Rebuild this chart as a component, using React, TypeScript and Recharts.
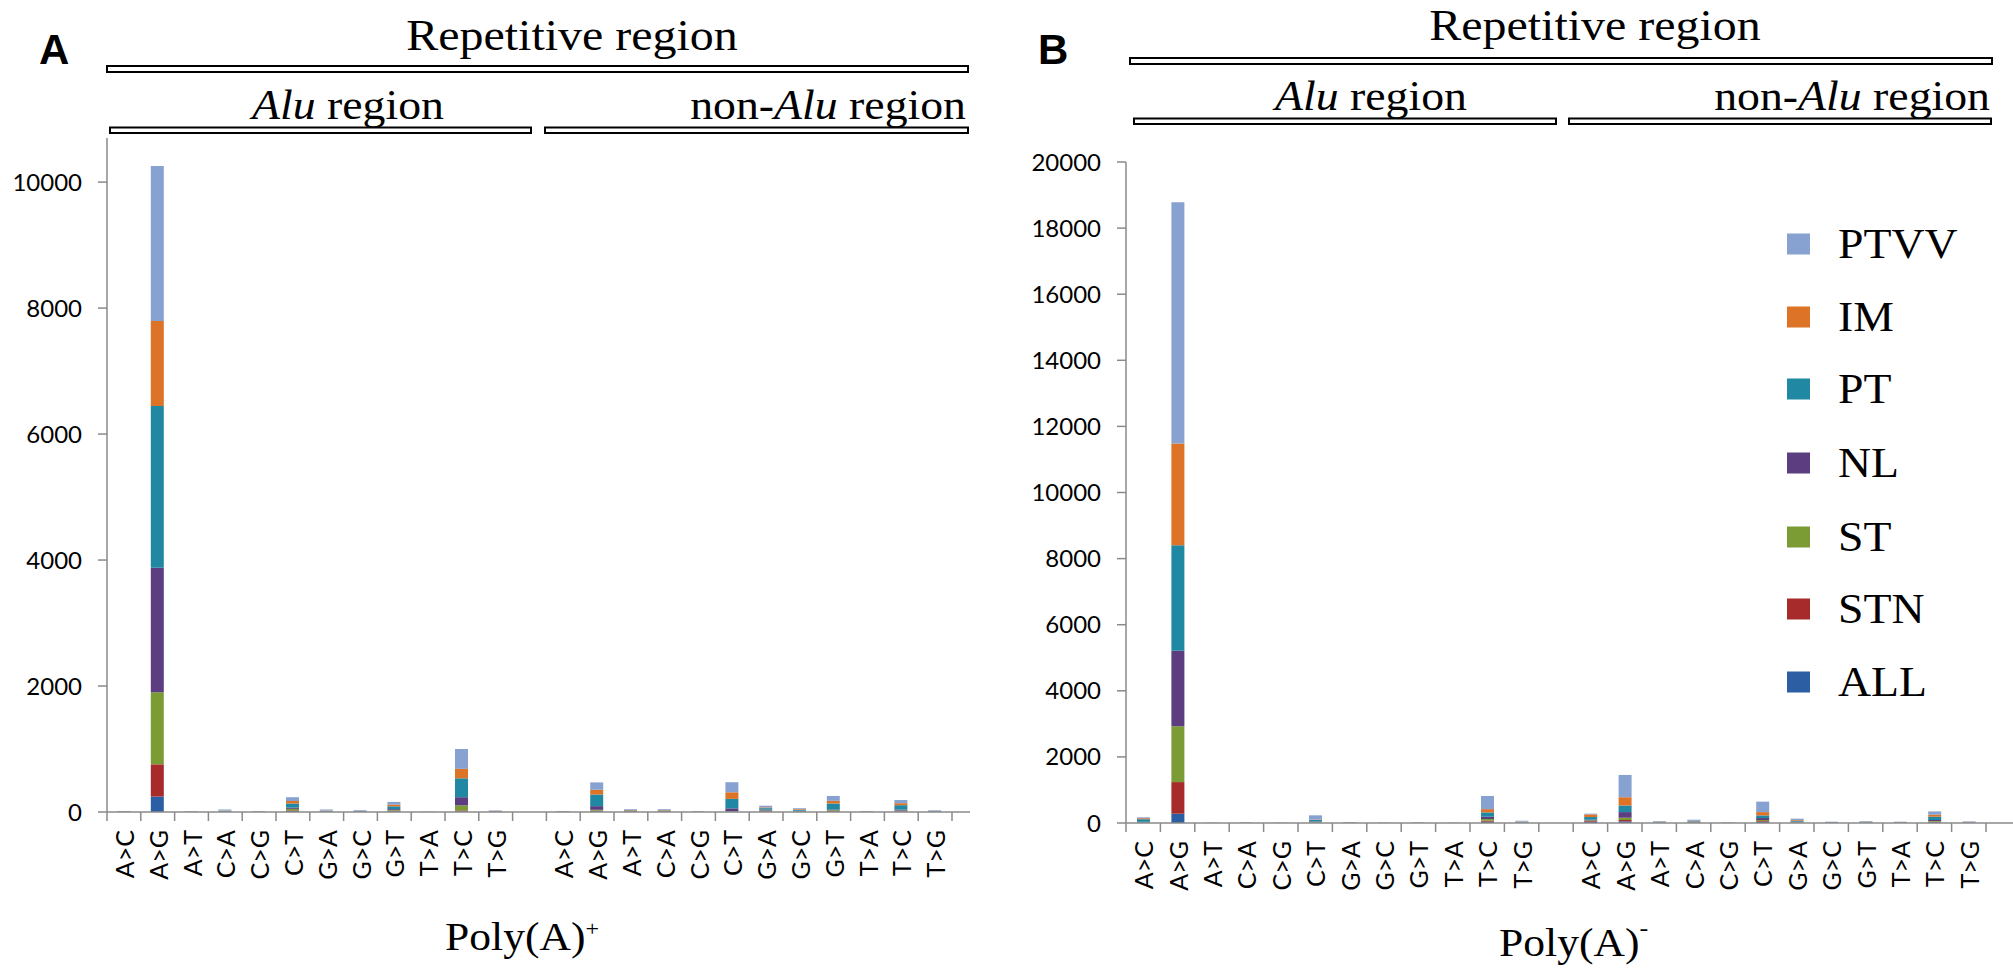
import { Bar, BarChart, XAxis, YAxis } from "recharts";

const MUTATIONS = ["A>C", "A>G", "A>T", "C>A", "C>G", "C>T", "G>A", "G>C", "G>T", "T>A", "T>C", "T>G"];
// Alu block, one empty slot, non-Alu block
const TICK_LABELS = [...MUTATIONS, "", ...MUTATIONS];

const SERIES = [
  { key: "ALL", color: "#2c5ea3" },
  { key: "STN", color: "#a72b2b" },
  { key: "ST", color: "#7b9c35" },
  { key: "NL", color: "#5c3d7f" },
  { key: "PT", color: "#2188a4" },
  { key: "IM", color: "#dd7326" },
  { key: "PTVV", color: "#87a2d0" },
];

// Poly(A)+
const PLUS_ALL = [2, 246, 1, 3, 1, 15, 3, 2, 10, 1, 10, 2, 0, 2, 12, 4, 4, 1, 5, 6, 4, 10, 1, 8, 2];
const PLUS_STN = [2, 511, 1, 2, 1, 10, 2, 2, 10, 0, 15, 2, 0, 2, 8, 4, 4, 1, 3, 6, 4, 8, 1, 5, 2];
const PLUS_ST = [2, 1143, 1, 2, 1, 25, 3, 2, 10, 1, 80, 2, 0, 2, 15, 4, 4, 1, 5, 12, 6, 12, 1, 10, 2];
const PLUS_NL = [2, 1976, 1, 3, 1, 20, 3, 2, 15, 0, 130, 2, 0, 2, 58, 4, 4, 1, 45, 12, 6, 10, 1, 15, 2];
const PLUS_PT = [3, 2571, 2, 8, 2, 65, 8, 6, 45, 1, 300, 5, 0, 3, 185, 9, 9, 2, 150, 25, 15, 95, 3, 70, 6];
const PLUS_IM = [2, 1348, 1, 5, 1, 40, 5, 4, 28, 1, 150, 4, 0, 2, 75, 8, 8, 2, 105, 12, 10, 42, 2, 32, 4];
const PLUS_PTVV = [2, 2459, 3, 17, 3, 60, 16, 12, 42, 1, 315, 8, 0, 2, 117, 12, 12, 2, 160, 27, 15, 78, 3, 50, 10];

// Poly(A)-
const MINUS_ALL = [10, 281, 1, 2, 1, 15, 3, 1, 2, 1, 40, 5, 0, 40, 50, 5, 8, 2, 40, 10, 4, 5, 4, 25, 4];
const MINUS_STN = [5, 957, 1, 2, 1, 5, 3, 1, 2, 1, 30, 5, 0, 20, 40, 5, 8, 2, 20, 10, 4, 5, 4, 15, 4];
const MINUS_ST = [10, 1689, 1, 2, 1, 15, 3, 1, 2, 1, 50, 5, 0, 20, 70, 5, 8, 2, 30, 10, 4, 5, 4, 20, 4];
const MINUS_NL = [10, 2288, 1, 2, 1, 15, 3, 1, 2, 1, 70, 5, 0, 20, 170, 5, 8, 2, 60, 10, 4, 5, 4, 30, 4];
const MINUS_PT = [80, 3189, 2, 3, 2, 40, 6, 3, 3, 2, 130, 15, 0, 80, 200, 15, 20, 3, 80, 30, 8, 15, 8, 100, 10];
const MINUS_IM = [30, 3077, 2, 2, 2, 12, 4, 2, 2, 2, 100, 10, 0, 80, 250, 10, 13, 2, 100, 20, 6, 10, 6, 60, 8];
const MINUS_PTVV = [27, 7298, 2, 2, 2, 130, 8, 3, 2, 2, 398, 25, 0, 23, 674, 15, 35, 2, 316, 41, 10, 15, 10, 100, 16];

const PLUS_TICKS = [0, 2000, 4000, 6000, 8000, 10000];
const MINUS_TICKS = [0, 2000, 4000, 6000, 8000, 10000, 12000, 14000, 16000, 18000, 20000];

const buildRows = (cols: number[][]) =>
  TICK_LABELS.map((label, i) => {
    const row: Record<string, string | number> = { key: `c${i}`, label };
    SERIES.forEach((s, j) => {
      row[s.key] = cols[j][i];
    });
    return row;
  });

const plusRows = buildRows([PLUS_ALL, PLUS_STN, PLUS_ST, PLUS_NL, PLUS_PT, PLUS_IM, PLUS_PTVV]);
const minusRows = buildRows([MINUS_ALL, MINUS_STN, MINUS_ST, MINUS_NL, MINUS_PT, MINUS_IM, MINUS_PTVV]);

const AXIS_GREY = "#8a8a8a";
const SANS = "Lato, 'Open Sans', sans-serif";
const SERIF = "'Liberation Serif', 'DejaVu Serif', serif";

function CategoryTick(props: any) {
  const { x, payload, index, step, axisY, extend } = props;
  const label = TICK_LABELS[index] ?? "";
  const last = index === TICK_LABELS.length - 1;
  const left = x - step / 2;
  const right = x + step / 2;
  return (
    <g>
      <line x1={left} x2={left} y1={axisY} y2={axisY + 9} stroke={AXIS_GREY} strokeWidth={1.5} />
      {last && (
        <>
          <line x1={right} x2={right} y1={axisY} y2={axisY + 9} stroke={AXIS_GREY} strokeWidth={1.5} />
          <line x1={right} x2={right + extend} y1={axisY} y2={axisY} stroke={AXIS_GREY} strokeWidth={1.5} />
        </>
      )}
      {label && (
        <text
          transform={`translate(${x},${axisY + 18}) rotate(-90)`}
          textAnchor="end"
          dominantBaseline="central"
          fontSize={25}
          fontFamily={SANS}
          fill="#000"
          data-value={payload?.value}
        >
          {label}
        </text>
      )}
    </g>
  );
}

interface PanelProps {
  rows: Record<string, string | number>[];
  left: number;
  plotLeft: number;
  plotRight: number;
  plotTop: number;
  plotBottom: number;
  domainMax: number;
  ticks: number[];
  extend: number;
}

function Panel({ rows, left, plotLeft, plotRight, plotTop, plotBottom, domainMax, ticks, extend }: PanelProps) {
  const width = 1000;
  const height = 970;
  const yAxisWidth = 100;
  const xAxisHeight = 60;
  const step = (plotRight - plotLeft) / rows.length;
  return (
    <div style={{ position: "absolute", left, top: 0 }}>
      <BarChart
        width={width}
        height={height}
        data={rows}
        margin={{
          top: plotTop,
          left: plotLeft - left - yAxisWidth,
          right: width - (plotRight - left),
          bottom: height - plotBottom - xAxisHeight,
        }}
        barSize={13}
      >
        <XAxis
          dataKey="key"
          type="category"
          interval={0}
          height={xAxisHeight}
          axisLine={{ stroke: AXIS_GREY, strokeWidth: 1.5 }}
          tickLine={false}
          tickSize={0}
          tick={<CategoryTick step={step} axisY={plotBottom} extend={extend} />}
        />
        <YAxis
          width={yAxisWidth}
          domain={[0, domainMax]}
          ticks={ticks}
          interval={0}
          allowDataOverflow
          tickSize={9}
          tickMargin={16}
          axisLine={{ stroke: AXIS_GREY, strokeWidth: 1.5 }}
          tickLine={{ stroke: AXIS_GREY, strokeWidth: 1.5 }}
          tick={{ fill: "#000", fontSize: 24, fontFamily: SANS }}
        />
        {SERIES.map((s) => (
          <Bar key={s.key} dataKey={s.key} stackId="stack" fill={s.color} isAnimationActive={false} />
        ))}
      </BarChart>
    </div>
  );
}

function Txt({
  x,
  y,
  size,
  anchor = "start",
  family = SERIF,
  weight = "normal",
  stretch = 1.09,
  children,
}: {
  x: number;
  y: number;
  size: number;
  anchor?: "start" | "middle" | "end";
  family?: string;
  weight?: string;
  stretch?: number;
  children: any;
}) {
  return (
    <text
      transform={`translate(${x},${y}) scale(${stretch},1)`}
      textAnchor={anchor}
      fontSize={size}
      fontFamily={family}
      fontWeight={weight}
      fill="#000"
    >
      {children}
    </text>
  );
}

function Bracket({ x, y, w, h }: { x: number; y: number; w: number; h: number }) {
  return <rect x={x} y={y} width={w} height={h} fill="#fff" stroke="#000" strokeWidth={2} />;
}

const LEGEND_ROWS = [244, 317, 389, 463, 537, 609, 682];

function Overlay() {
  const legend = [...SERIES].reverse();
  return (
    <svg width={2013} height={970} style={{ position: "absolute", left: 0, top: 0, pointerEvents: "none" }}>
      {/* panel A */}
      <Txt x={39} y={64} size={42} family="'Liberation Sans', Arial, sans-serif" weight="bold" stretch={1}>
        A
      </Txt>
      <Txt x={572} y={50} size={44} anchor="middle">
        Repetitive region
      </Txt>
      <Bracket x={107} y={66} w={861} h={6} />
      <Txt x={348} y={119} size={42} anchor="middle">
        <tspan fontStyle="italic">Alu</tspan> region
      </Txt>
      <Txt x={966} y={119} size={42} anchor="end">
        non-<tspan fontStyle="italic">Alu</tspan> region
      </Txt>
      <Bracket x={110} y={127.5} w={421} h={5.5} />
      <Bracket x={545} y={127.5} w={423} h={5.5} />
      <Txt x={445} y={950} size={40}>
        Poly(A)
        <tspan fontSize={22} dy={-14}>
          +
        </tspan>
      </Txt>

      {/* panel B */}
      <Txt x={1038} y={64} size={42} family="'Liberation Sans', Arial, sans-serif" weight="bold" stretch={1}>
        B
      </Txt>
      <Txt x={1595} y={40} size={44} anchor="middle">
        Repetitive region
      </Txt>
      <Bracket x={1130} y={58} w={862} h={6} />
      <Txt x={1371} y={110} size={42} anchor="middle">
        <tspan fontStyle="italic">Alu</tspan> region
      </Txt>
      <Txt x={1990} y={110} size={42} anchor="end">
        non-<tspan fontStyle="italic">Alu</tspan> region
      </Txt>
      <Bracket x={1134} y={118.5} w={422} h={5.5} />
      <Bracket x={1569} y={118.5} w={422} h={5.5} />
      <Txt x={1499} y={956} size={40}>
        Poly(A)
        <tspan fontSize={24} dy={-20}>
          -
        </tspan>
      </Txt>

      {/* legend */}
      {legend.map((s, i) => (
        <g key={s.key}>
          <rect x={1787} y={LEGEND_ROWS[i] - 10.5} width={23} height={21} fill={s.color} />
          <Txt x={1838} y={LEGEND_ROWS[i] + 14} size={42}>
            {s.key}
          </Txt>
        </g>
      ))}
    </svg>
  );
}

export default function App() {
  return (
    <div style={{ position: "absolute", left: 0, top: 0, width: 2013, height: 970, background: "#fff", overflow: "hidden" }}>
      <Panel
        rows={plusRows}
        left={0}
        plotLeft={107}
        plotRight={952}
        plotTop={138}
        plotBottom={812}
        domainMax={10700}
        ticks={PLUS_TICKS}
        extend={18}
      />
      <Panel
        rows={minusRows}
        left={1013}
        plotLeft={1126}
        plotRight={1986}
        plotTop={162}
        plotBottom={823}
        domainMax={20000}
        ticks={MINUS_TICKS}
        extend={27}
      />
      <Overlay />
    </div>
  );
}
